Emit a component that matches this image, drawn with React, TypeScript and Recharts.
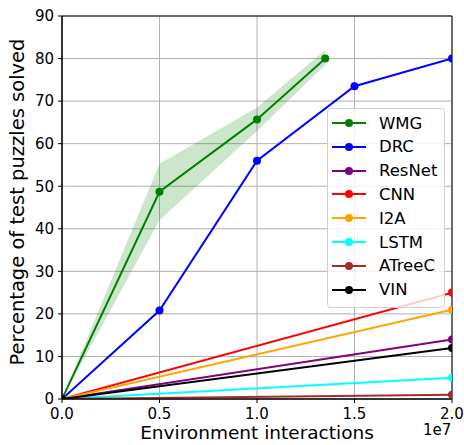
import React from 'react';
import {
  ComposedChart, Line, Area, XAxis, YAxis, CartesianGrid, ReferenceArea, Legend
} from 'recharts';

// x positions (environment interactions)
const wmgX = [0, 5e6, 1e7, 1.35e7];
const wmgY = [0, 48.7, 65.7, 80];
const wmgLow = [0, 42, 63, 78.5];
const wmgHigh = [0, 55.3, 68.5, 82];

const drcX = [0, 5e6, 1e7, 1.5e7, 2e7];
const drcY = [0, 20.8, 56, 73.5, 80];

const baseX = [0, 2e7];
const resnetY = [0, 14];
const cnnY = [0, 25];
const i2aY = [0, 21];
const lstmY = [0, 5];
const atreecY = [0, 1];
const vinY = [0, 12];

const xTicks = [0, 5e6, 1e7, 1.5e7, 2e7];
const yTicks = [0, 10, 20, 30, 40, 50, 60, 70, 80, 90];

const FONT = '"DejaVu Sans", sans-serif';

const zip = (xs: number[], ys: number[]) => xs.map((x, i) => ({ x, y: ys[i] }));

const wmgBand = wmgX.map((x, i) => ({ x, band: [wmgLow[i], wmgHigh[i]] }));

const series = [
  { name: 'WMG', color: '#008000', data: zip(wmgX, wmgY) },
  { name: 'DRC', color: '#0000ff', data: zip(drcX, drcY) },
  { name: 'ResNet', color: '#800080', data: zip(baseX, resnetY) },
  { name: 'CNN', color: '#ff0000', data: zip(baseX, cnnY) },
  { name: 'I2A', color: '#ffa500', data: zip(baseX, i2aY) },
  { name: 'LSTM', color: '#00ffff', data: zip(baseX, lstmY) },
  { name: 'ATreeC', color: '#a52a2a', data: zip(baseX, atreecY) },
  { name: 'VIN', color: '#000000', data: zip(baseX, vinY) },
];

const LegendBox = () => (
  <div style={{
    position: 'absolute', left: 327, top: 108, width: 118, height: 200,
    border: '1px solid #d0d0d0', borderRadius: 4, background: 'rgba(255,255,255,0.8)',
    fontFamily: FONT, fontSize: 16.5, boxSizing: 'border-box',
  }}>
    {series.map((s, i) => (
      <div key={s.name} style={{ position: 'absolute', left: 0, top: 2 + i * 23.8, height: 24, display: 'flex', alignItems: 'center' }}>
        <svg width={44} height={24} style={{ display: 'block' }}>
          <line x1={4} x2={38} y1={12} y2={12} stroke={s.color} strokeWidth={2} />
          <circle cx={21} cy={12} r={4} fill={s.color} />
        </svg>
        <span style={{ marginLeft: 7, color: '#000' }}>{s.name}</span>
      </div>
    ))}
  </div>
);

export default function App() {
  return (
    <div style={{ position: 'absolute', left: 0, top: 0, width: 464, height: 445, background: '#fff', overflow: 'hidden' }}>
      <ComposedChart width={464} height={445} margin={{ top: 16, right: 12, left: 22, bottom: 0 }}>
        <CartesianGrid stroke="#b0b0b0" strokeWidth={1} />
        <XAxis
          type="number" dataKey="x" domain={[0, 2e7]} ticks={xTicks} allowDataOverflow
          tickFormatter={(v: number) => (v / 1e7).toFixed(1)}
          tick={{ fill: '#000', fontSize: 15, fontFamily: FONT }}
          stroke="#000" tickSize={4} tickMargin={5} height={46}
        />
        <YAxis
          type="number" domain={[0, 90]} ticks={yTicks} allowDataOverflow
          tick={{ fill: '#000', fontSize: 15, fontFamily: FONT }}
          stroke="#000" tickSize={4} tickMargin={4} width={40}
        />
        <Area
          data={wmgBand} dataKey="band" type="linear" stroke="none"
          fill="#008000" fillOpacity={0.2} isAnimationActive={false}
        />
        {series.map((s) => (
          <Line
            key={s.name} data={s.data} dataKey="y" name={s.name} type="linear"
            stroke={s.color} strokeWidth={2}
            dot={{ r: 4, fill: s.color, stroke: s.color, strokeWidth: 0 }}
            activeDot={false} isAnimationActive={false}
          />
        ))}
        <ReferenceArea x1={0} x2={2e7} y1={0} y2={90} fill="none" stroke="#000" strokeWidth={1} />
        <Legend content={() => null} />
      </ComposedChart>
      <LegendBox />
      <div style={{ position: 'absolute', left: 0, width: 464, textAlign: 'center', top: 422, paddingLeft: 50, boxSizing: 'border-box', fontFamily: FONT, fontSize: 18.5 }}>
        Environment interactions
      </div>
      <div style={{ position: 'absolute', left: 423, top: 421, fontFamily: FONT, fontSize: 15 }}>1e7</div>
      <div style={{
        position: 'absolute', left: 17, top: 202, transform: 'translate(-50%, -50%) rotate(-90deg)',
        whiteSpace: 'nowrap', fontFamily: FONT, fontSize: 19.5,
      }}>
        Percentage of test puzzles solved
      </div>
    </div>
  );
}
